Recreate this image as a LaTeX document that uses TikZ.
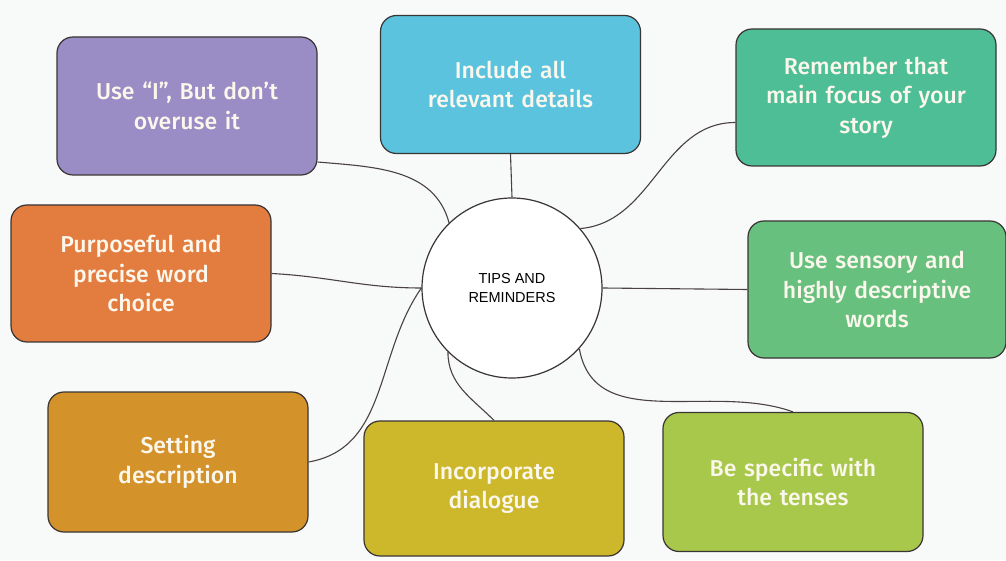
\documentclass[tikz,border=0pt]{standalone}
\usepackage{fontspec}
\setmainfont{Fira Sans}[UprightFont=* Medium]
\newfontfamily\hubfont{Liberation Sans}
\definecolor{bgc}{HTML}{F8F9F9}
\definecolor{edgec}{HTML}{3A3535}
\definecolor{linkc}{HTML}{4A4242}
\definecolor{txtc}{HTML}{FBF7EC}
\definecolor{purplec}{HTML}{9A8CC4}
\definecolor{bluec}{HTML}{5BC3DD}
\definecolor{tealc}{HTML}{4DBE95}
\definecolor{orangec}{HTML}{E37C3F}
\definecolor{greenc}{HTML}{67C07E}
\definecolor{settingc}{HTML}{D4922B}
\definecolor{yellowc}{HTML}{CDB82B}
\definecolor{limec}{HTML}{A7C84B}
\tikzset{
  tipbox/.style={draw=edgec, line width=1.2pt, rounded corners=16pt,
    minimum width=260pt, minimum height=138pt, text width=240pt,
    inner sep=0pt, align=center, text=txtc,
    font=\fontsize{23}{29.5}\selectfont},
  hub/.style={circle, draw=edgec, line width=1.2pt, fill=white,
    minimum size=180pt, inner sep=0pt, align=center,
    font=\hubfont\fontsize{14.5}{19}\selectfont},
  link/.style={draw=linkc, line width=1.1pt},
}

\begin{document}
\begin{tikzpicture}[x=1pt,y=1pt]
			%%%%% START %%%%%
			\fill[bgc] (0,0) rectangle (1006,560);
			\useasboundingbox (0,0) rectangle (1006,560);
			
			\node[hub] (tips) at (512,272) {TIPS AND\\REMINDERS};
			
			\node[tipbox, fill=purplec] (usei) at (187,454) {Use “I”, But don’t\\overuse it};
			\node[tipbox, fill=bluec] (details) at (510.5,475.5) {Include all\\relevant details};
			\node[tipbox, fill=tealc, minimum height=137pt] (focus) at (866,462.5) {Remember that\\main focus of your\\story};
			\node[tipbox, fill=orangec, minimum height=137pt] (words) at (141,286.5) {Purposeful and\\precise word\\choice};
			\node[tipbox, fill=greenc, minimum height=137pt, minimum width=258pt] (sensory) at (877,270.5) {Use sensory and\\highly descriptive\\words};
			\node[tipbox, fill=settingc, minimum height=140pt] (setting) at (178,98) {Setting\\description};
			\node[tipbox, fill=yellowc, minimum height=135pt] (dialogue) at (494,71.5) {Incorporate\\dialogue};
			\node[tipbox, fill=limec, minimum height=139pt] (tenses) at (793,78) {Be specific with\\the tenses};
			
			% connectors
			\draw[link] ([yshift=-56pt]usei.east) to[out=-5,in=105] (tips.134);
			\draw[link] (details.south) -- (tips.north);
			\draw[link] (tips.41) to[out=5,in=180] ([yshift=-25pt]focus.west);
			\draw[link] (words.east) to[out=-3,in=180] (tips.west);
			\draw[link] (setting.east) to[out=10,in=235] (tips.west);
			\draw[link] (tips.east) -- (sensory.west);
			\draw[link] (tips.225) to[out=-90,in=135] (dialogue.north);
			\draw[link] (tips.318) to[out=-80,in=160] (tenses.north);
			%%%%% END %%%%%
		\end{tikzpicture}
\end{document}
